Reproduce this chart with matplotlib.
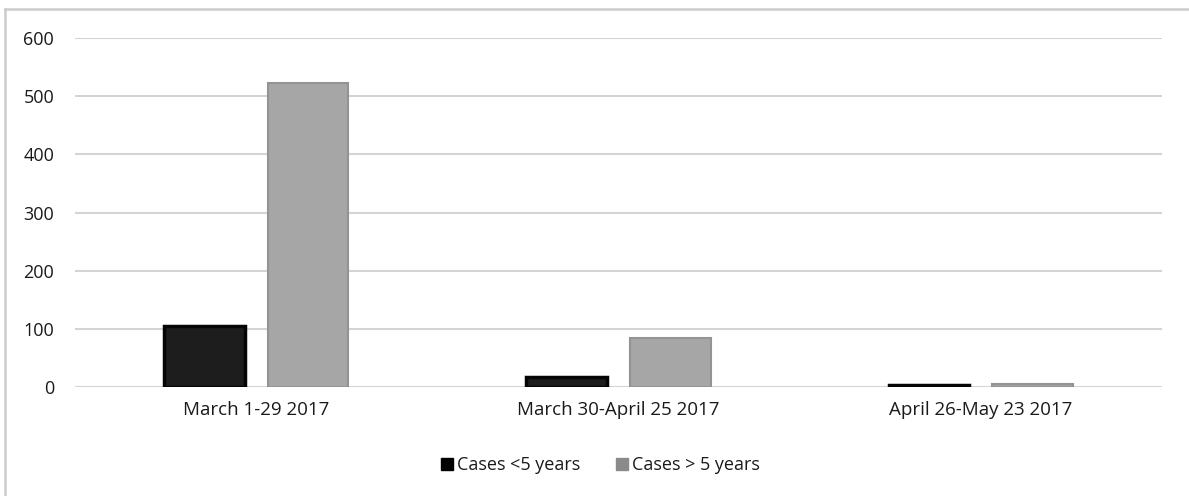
import matplotlib.pyplot as plt
import numpy as np

# data
periods = ['March 1-29 2017', 'March 30-April 25 2017', 'April 26-May 23 2017']
cases_under5 = [105, 17, 3]
cases_over5 = [523, 84, 6]
yticks = [0, 100, 200, 300, 400, 500, 600]

plt.rcParams['font.family'] = ['Open Sans', 'DejaVu Sans']

W, H = 1189, 496
fig = plt.figure(figsize=(W / 100, H / 100), dpi=100)
ax = fig.add_axes([75 / W, 1 - 387 / H, 1087 / W, 349 / H])

x = np.arange(len(periods))
w = 0.222
ax.bar(x - 0.143, cases_under5, w, color='#1d1d1d', edgecolor='#050505',
       linewidth=2.5, zorder=3)
ax.bar(x + 0.143, cases_over5, w, color='#a6a6a6', edgecolor='#939393',
       linewidth=1.5, zorder=3)

ax.set_xlim(-0.5, 2.5)
ax.set_ylim(0, 600)
ax.set_yticks(yticks)
ax.set_xticks(x)
ax.set_xticklabels(periods, fontsize=13.5)
ax.tick_params(axis='y', labelsize=13, length=0, pad=15, labelcolor='#1a1a1a')
ax.tick_params(axis='x', length=0, pad=10, labelcolor='#1a1a1a')
ax.grid(axis='y', color='#d4d4d4', linewidth=1.5, zorder=0)
for s in ax.spines.values():
    s.set_visible(False)

# outer frame (top and left edges only)
fig.add_artist(plt.Line2D([5 / W, 1], [1 - 9 / H, 1 - 9 / H], color='#cccccc',
                          linewidth=1.8, transform=fig.transFigure))
fig.add_artist(plt.Line2D([5 / W, 5 / W], [0, 1 - 9 / H], color='#cccccc',
                          linewidth=1.8, transform=fig.transFigure))

# legend
h1 = plt.Line2D([], [], marker='s', linestyle='', color='#000000', markersize=9)
h2 = plt.Line2D([], [], marker='s', linestyle='', color='#8a8a8a', markersize=9)
fig.legend([h1, h2], ['Cases <5 years', 'Cases > 5 years'], loc='center',
           bbox_to_anchor=(600 / W, 1 - 465 / H), ncol=2, frameon=False,
           fontsize=13, handletextpad=0.15, columnspacing=1.9, handlelength=0.8,
           labelcolor='#1a1a1a')

fig.savefig('out.png', dpi=100)
